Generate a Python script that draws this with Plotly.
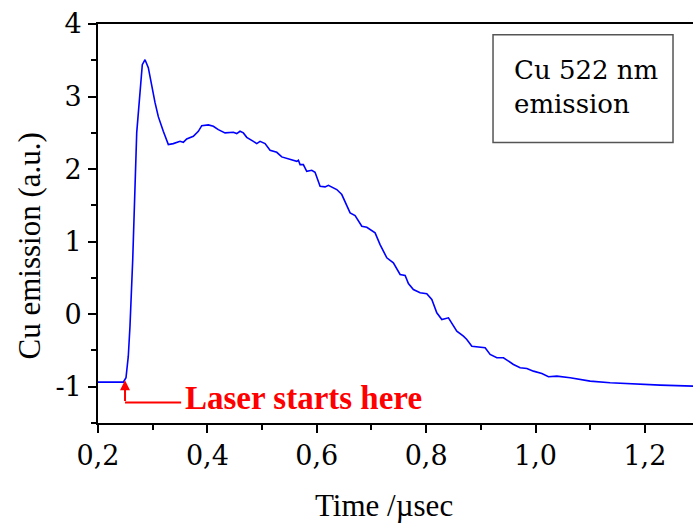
import plotly.graph_objects as go

# --- data ---
time_us = [0.200, 0.2463, 0.2512, 0.2554, 0.2585, 0.2616, 0.2635, 0.2708, 0.2768, 0.2810,
           0.2860, 0.2920, 0.3043, 0.3103, 0.3194, 0.3286, 0.3377, 0.3500, 0.3560, 0.3622,
           0.3743, 0.3835, 0.3897, 0.4018, 0.4109, 0.4200, 0.4323, 0.4475, 0.4537, 0.4597,
           0.4658, 0.4720, 0.4841, 0.4903, 0.4963, 0.5055, 0.5146, 0.5269, 0.5360, 0.5512,
           0.5635, 0.5664, 0.5695, 0.5755, 0.5817, 0.5909, 0.5969, 0.6061, 0.6152, 0.6213,
           0.6366, 0.6458, 0.6549, 0.6610, 0.6701, 0.6824, 0.6915, 0.7067, 0.7158, 0.7281,
           0.7401, 0.7524, 0.7616, 0.7676, 0.7767, 0.7890, 0.8012, 0.8104, 0.8195, 0.8287,
           0.8408, 0.8561, 0.8682, 0.8744, 0.8836, 0.8956, 0.9079, 0.9170, 0.9293, 0.9414,
           0.9597, 0.9719, 0.9842, 0.9962, 1.0116, 1.0237, 1.0390, 1.0634, 1.0999, 1.1365,
           1.1792, 1.2280, 1.2884]
cu_emission = [-0.937, -0.937, -0.876, -0.579, -0.165, 0.386, 0.753, 2.503, 3.136, 3.439,
               3.508, 3.398, 2.916, 2.723, 2.521, 2.337, 2.351, 2.383, 2.369, 2.416,
               2.452, 2.521, 2.599, 2.609, 2.590, 2.544, 2.499, 2.507, 2.489, 2.521,
               2.499, 2.438, 2.383, 2.351, 2.383, 2.351, 2.259, 2.231, 2.168, 2.131,
               2.107, 2.121, 2.062, 2.062, 1.970, 1.983, 1.956, 1.763, 1.755, 1.777,
               1.718, 1.649, 1.488, 1.397, 1.360, 1.212, 1.198, 1.121, 0.960, 0.777,
               0.708, 0.547, 0.533, 0.423, 0.340, 0.295, 0.281, 0.202, 0.019, -0.073,
               -0.050, -0.234, -0.303, -0.348, -0.441, -0.449, -0.463, -0.555, -0.601, -0.601,
               -0.693, -0.738, -0.748, -0.785, -0.817, -0.862, -0.854, -0.876, -0.923, -0.945,
               -0.964, -0.978, -0.992]

x_tick_vals = [0.2, 0.4, 0.6, 0.8, 1.0, 1.2]
x_tick_text = ["0,2", "0,4", "0,6", "0,8", "1,0", "1,2"]
y_tick_vals = [-1, 0, 1, 2, 3, 4]
y_tick_text = ["-1", "0", "1", "2", "3", "4"]

x_title = "Time /\u00b5sec"
y_title = "Cu emission (a.u.)"
box_text = "Cu 522 nm<br>emission"
laser_text = "Laser starts here"
laser_x = 0.2494
laser_tip_y = -0.91
laser_tail_y = -1.216
laser_text_x = 0.352

TIMES = "'Liberation Serif', 'Times New Roman', Times, serif"
CENTURY = "'DejaVu Serif', 'Bitstream Vera Serif', serif"

fig = go.Figure()
fig.add_trace(go.Scatter(x=time_us, y=cu_emission, mode="lines",
                         line=dict(color="#0000ff", width=1.6), showlegend=False))

tickfont = dict(family=CENTURY, size=27, color="black")
fig.update_xaxes(range=[0.2, 1.288], tickmode="array", tickvals=x_tick_vals, ticktext=x_tick_text,
                 ticks="outside", ticklen=8, tickwidth=1.5, tickcolor="black",
                 showline=True, linecolor="black", linewidth=1.8, mirror=True,
                 showgrid=False, zeroline=False, tickfont=tickfont,
                 minor=dict(tickmode="linear", tick0=0.3, dtick=0.2, ticks="outside",
                            ticklen=5, tickwidth=1.5, tickcolor="black", showgrid=False))
fig.update_yaxes(range=[-1.5, 4], tickmode="array", tickvals=y_tick_vals, ticktext=y_tick_text,
                 ticks="outside", ticklen=8, tickwidth=1.5, tickcolor="black",
                 showline=True, linecolor="black", linewidth=1.8, mirror=False,
                 showgrid=False, zeroline=False, tickfont=tickfont, ticklabelstandoff=1,
                 minor=dict(tickmode="linear", tick0=-0.5, dtick=1, ticks="outside",
                            ticklen=5, tickwidth=1.5, tickcolor="black", showgrid=False))

# horizontal part of the laser arrow
fig.add_shape(type="line", xref="x", yref="y", x0=laser_x, x1=laser_text_x,
              y0=laser_tail_y, y1=laser_tail_y, line=dict(color="red", width=2))
# vertical arrow
fig.add_annotation(x=laser_x, y=laser_tip_y, ax=laser_x, ay=laser_tail_y, xref="x", yref="y",
                   axref="x", ayref="y", text="", showarrow=True, arrowhead=2, arrowsize=1,
                   arrowwidth=2, arrowcolor="red", standoff=0)
fig.add_annotation(x=0.1429, y=0.0616, xref="paper", yref="paper", text="<b>" + laser_text + "</b>",
                   showarrow=False, xanchor="left", yanchor="middle",
                   font=dict(family=TIMES, size=33, color="red"))

# text box
fig.add_shape(type="rect", xref="paper", yref="paper", x0=0.6639, x1=0.9664, y0=0.7027, y1=0.9732,
              line=dict(color="#555555", width=1.5), fillcolor="white", layer="above")
fig.add_annotation(x=0.6958, y=0.8430, xref="paper", yref="paper", text=box_text,
                   showarrow=False, xanchor="left", yanchor="middle", align="left",
                   font=dict(family=CENTURY, size=26, color="black"))

# axis titles
fig.add_annotation(x=0.4807, y=-0.2064, xref="paper", yref="paper", text=x_title,
                   showarrow=False, xanchor="center", yanchor="middle",
                   font=dict(family=TIMES, size=31, color="black"))
fig.add_annotation(x=-0.1143, y=0.4448, xref="paper", yref="paper", text=y_title,
                   showarrow=False, xanchor="center", yanchor="middle", textangle=-90,
                   font=dict(family=TIMES, size=31, color="black"))

fig.update_layout(width=693, height=523, margin=dict(l=98, r=0, t=24, b=100),
                  plot_bgcolor="white", paper_bgcolor="white",
                  font=dict(family=TIMES, color="black"))

fig.write_html("out.html")
